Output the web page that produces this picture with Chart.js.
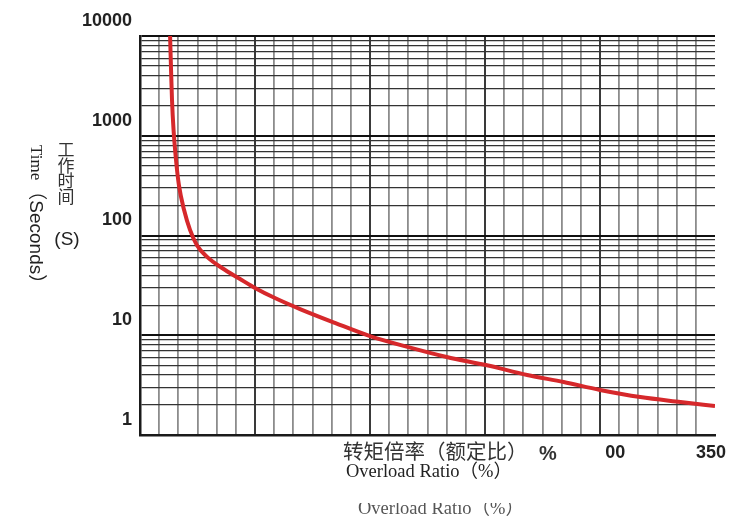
<!DOCTYPE html>
<html>
<head>
  <title>Overload Ratio vs Trip Time</title>
  <style>
    body { margin: 0; background: #fff; }
    #chart-box { width: 742px; height: 516px; }
  </style>
  <script src="https://cdn.jsdelivr.net/npm/chart.js"></script>
</head>
<body>
  <div id="chart-box">
    <canvas id="trip-chart" width="742" height="516"></canvas>
  </div>
  <script>
    // curve: overload ratio (%) -> trip time (s)
    const ratio   = [65.7, 66.2, 66.7, 67.5, 68.8, 70.3, 73, 76.1, 79.7, 85, 92.8, 102.2, 110, 120.4,
                     133.5, 151.7, 170, 190, 210, 231, 252, 271, 290, 311, 332, 350];
    const seconds = [10000, 4570, 2280, 1150, 570, 320, 180, 114, 80, 61, 47.2, 36.6, 29.8, 23.6,
                     18.3, 13.3, 9.8, 7.6, 6.05, 5.0, 4.0, 3.4, 2.83, 2.4, 2.14, 1.95];

    const yTickValues = [1, 10, 100, 1000, 10000];
    const xTickValues = [300, 350];
    const xTickTexts  = ['00', '350'];

    const X_MIN = 50, X_MAX = 350, X_STEP = 10;

    // extra captions the scan carries around the plot
    const captionPlugin = {
      id: 'captions',
      afterDraw(chart) {
        const c = chart.ctx;
        c.save();
        c.textBaseline = 'middle';
        c.textAlign = 'center';

        // stacked Chinese y title
        c.fillStyle = '#333';
        c.font = '17px "Noto Sans CJK SC"';
        ['工', '作', '时', '间'].forEach((ch, i) => c.fillText(ch, 66, 150 + i * 15.5));
        c.font = '19px "Liberation Sans"';
        c.fillStyle = '#222';
        c.fillText('(S)', 67, 240);

        // rotated english y title, reads top to bottom
        c.save();
        c.translate(35, 145);
        c.rotate(Math.PI / 2);
        c.textAlign = 'left';
        c.font = '17px "Liberation Serif"';
        c.fillText('Time', 0, 0);
        const w = c.measureText('Time').width;
        c.font = '19px "Liberation Sans", "Noto Sans CJK SC"';
        c.fillText('（Seconds）', w + 1, 0);
        c.restore();

        // x titles
        c.textAlign = 'left';
        c.textBaseline = 'alphabetic';
        c.fillStyle = '#333';
        c.font = '20.5px "Noto Sans CJK SC"';
        c.fillText('转矩倍率（额定比）', 343, 459);
        c.font = 'bold 20px "Liberation Sans"';
        c.fillText('%', 539, 460);

        c.fillStyle = '#222';
        c.font = '18.5px "Liberation Serif", "Noto Sans CJK SC"';
        c.fillText('Overload Ratio（%）', 346, 477);

        // faded duplicate, top half cut away in the scan
        c.save();
        c.beginPath();
        c.rect(0, 503, 742, 20);
        c.clip();
        c.fillStyle = '#555';
        c.fillText('Overload Ratio（%）', 358, 514);
        c.restore();

        c.restore();
      }
    };

    const ctx = document.getElementById('trip-chart').getContext('2d');
    const chart = new Chart(ctx, {
      type: 'line',
      data: {
        datasets: [{
          label: 'Trip time',
          data: ratio.map((r, i) => ({x: r, y: seconds[i]})),
          borderColor: '#d6282b',
          borderWidth: 4,
          pointRadius: 0,
          fill: false,
          cubicInterpolationMode: 'monotone'
        }]
      },
      options: {
        responsive: false,
        animation: false,
        layout: { padding: { top: 36, right: 27, left: 0, bottom: 0 } },
        plugins: {
          legend: { display: false },
          tooltip: { enabled: false }
        },
        scales: {
          x: {
            type: 'linear',
            min: X_MIN,
            max: X_MAX,
            afterBuildTicks: (scale) => {
              let t = [];
              for (let v = X_MIN; v <= X_MAX; v += X_STEP) t.push({value: v});
              scale.ticks = t;
            },
            afterFit: (scale) => { scale.height = 81; },
            border: { color: '#1a1a1a', width: 2.5 },
            grid: {
              drawTicks: false,
              color: (c) => {
                const v = c.tick ? c.tick.value : 0;
                if (v === X_MAX) return 'rgba(0,0,0,0)';
                return (v - X_MIN) % 60 === 0 ? '#3a3a3a' : '#8c8c8c';
              },
              lineWidth: (c) => {
                const v = c.tick ? c.tick.value : 0;
                return (v - X_MIN) % 60 === 0 ? 2 : 1.8;
              }
            },
            ticks: {
              autoSkip: false,
              maxRotation: 0,
              padding: 7,
              labelOffset: -4,
              color: '#222',
              font: { family: 'Liberation Sans', size: 18, weight: 'bold' },
              callback: (v) => {
                const k = xTickValues.indexOf(v);
                return k > -1 ? xTickTexts[k] : '';
              }
            }
          },
          y: {
            type: 'logarithmic',
            min: 1,
            max: 10000,
            afterBuildTicks: (scale) => {
              let t = [];
              for (let d = 1; d < 10000; d *= 10) {
                for (let m = 1; m <= 9; m++) t.push({value: m * d});
              }
              t.push({value: 10000});
              scale.ticks = t;
            },
            afterFit: (scale) => { scale.width = 140; },
            border: { color: '#1a1a1a', width: 2.5 },
            grid: {
              drawTicks: false,
              color: (c) => {
                const v = c.tick ? c.tick.value : 0;
                return yTickValues.includes(v) ? '#111' : '#333';
              },
              lineWidth: (c) => {
                const v = c.tick ? c.tick.value : 0;
                return yTickValues.includes(v) ? 2 : 1.2;
              }
            },
            ticks: {
              autoSkip: false,
              padding: 8,
              labelOffset: -15,
              color: '#222',
              font: { family: 'Liberation Sans', size: 18, weight: 'bold' },
              callback: (v) => yTickValues.includes(v) ? String(v) : ''
            }
          }
        }
      },
      plugins: [captionPlugin]
    });
  </script>
</body>
</html>
